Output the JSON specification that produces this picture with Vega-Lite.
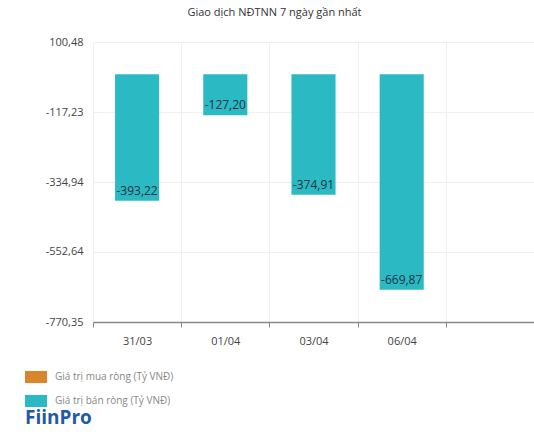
{
  "$schema": "https://vega.github.io/schema/vega-lite/v6.json",
  "autosize": "none",
  "width": 441,
  "height": 280,
  "padding": {"left": 93, "top": 42, "right": 0, "bottom": 116},
  "background": "white",
  "config": {
    "locale": {"number": {"decimal": ",", "thousands": ".", "grouping": [3], "currency": ["", " ₫"], "minus": "-"}},
    "font": "Open Sans",
    "view": {"stroke": null}
  },
  "title": {
    "text": "Giao dịch NĐTNN 7 ngày gần nhất",
    "fontSize": 11,
    "fontWeight": "normal",
    "color": "#333333",
    "anchor": "middle",
    "dx": -39,
    "offset": 18
  },
  "data": {
    "values": [
      {"date": "31/03", "value": -393.22, "series": "Giá trị bán ròng (Tỷ VNĐ)"},
      {"date": "01/04", "value": -127.20, "series": "Giá trị bán ròng (Tỷ VNĐ)"},
      {"date": "03/04", "value": -374.91, "series": "Giá trị bán ròng (Tỷ VNĐ)"},
      {"date": "06/04", "value": -669.87, "series": "Giá trị bán ròng (Tỷ VNĐ)"}
    ]
  },
  "encoding": {
    "x": {
      "field": "date",
      "type": "nominal",
      "sort": null,
      "scale": {"domain": ["31/03", "01/04", "03/04", "06/04", " "], "padding": 0},
      "axis": {
        "title": null,
        "labelAngle": 0,
        "tickBand": "extent",
        "grid": true,
        "gridColor": "#eeeeee",
        "domainColor": "#888888",
        "domainWidth": 1.5,
        "tickColor": "#888888",
        "tickSize": 5,
        "labelColor": "#444444",
        "labelFontSize": 11,
        "labelPadding": 8
      }
    }
  },
  "layer": [
    {
      "mark": {"type": "bar", "width": {"band": 0.5}},
      "encoding": {
        "y": {
          "field": "value",
          "type": "quantitative",
          "scale": {"domain": [-770.35, 100.48], "nice": false, "zero": false},
          "axis": {
            "title": null,
            "values": [100.48, -117.23, -334.94, -552.64, -770.35],
            "format": ".2f",
            "domain": false,
            "ticks": false,
            "gridColor": "#f3eeee",
            "labelColor": "#444444",
            "labelFontSize": 11,
            "labelPadding": 10
          }
        },
        "y2": {"datum": 0},
        "color": {
          "field": "series",
          "type": "nominal",
          "scale": {
            "domain": ["Giá trị mua ròng (Tỷ VNĐ)", "Giá trị bán ròng (Tỷ VNĐ)"],
            "range": ["#d8862b", "#2bbac3"]
          },
          "legend": {
            "title": "FiinPro",
            "titleOrient": "bottom",
            "titleFontSize": 19,
            "titleFontWeight": "bold",
            "titleColor": "#1f5aa6",
            "titlePadding": 2,
            "orient": "none",
            "legendX": -68,
            "legendY": 324,
            "symbolType": "M-1,-0.55L1,-0.55L1,0.55L-1,0.55Z",
            "symbolSize": 484,
            "symbolStrokeWidth": 0,
            "symbolOpacity": 1,
            "labelFontSize": 10,
            "labelColor": "#888888",
            "rowPadding": 6,
            "labelOffset": 8
          }
        }
      }
    },
    {
      "mark": {"type": "text", "baseline": "middle", "dy": -10, "fontSize": 12, "color": "#1c3442"},
      "encoding": {
        "y": {"field": "value", "type": "quantitative"},
        "text": {"field": "value", "type": "quantitative", "format": ".2f"}
      }
    }
  ]
}
